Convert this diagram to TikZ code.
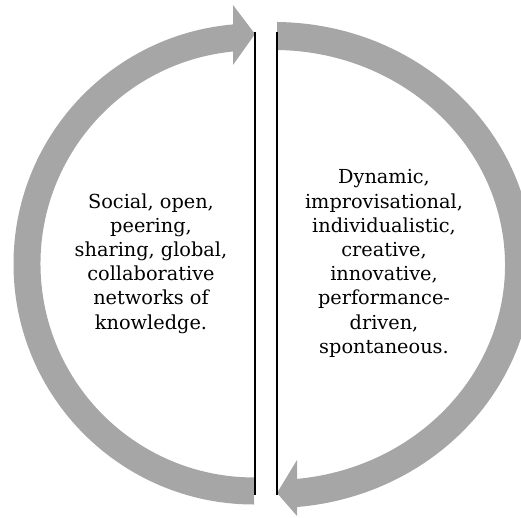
\documentclass[tikz,border=0pt]{standalone}
\usepackage{fontspec}
\setmainfont{DejaVu Serif}
\usetikzlibrary{positioning}
\definecolor{cyGray}{RGB}{166,166,166}
\tikzset{
    band/.style={fill=cyGray, draw=none},
    divider/.style={draw=black, line width=1.7pt},
    blurb/.style={font=\fontsize{19.3}{24.2}\selectfont, align=center, inner sep=0pt}
}

\begin{document}
\begin{tikzpicture}[x=1pt, y=1pt]
  \useasboundingbox (0,0) rectangle (521,517);
  \clip (0,0) rectangle (521,517);

  % Left arc, bottom up to the top arrowhead
  \fill[band] (254,12.5) arc[start angle=270, end angle=95, radius=240.5]
    -- (233,512) -- (255,483) -- (233,452)
    -- (233,465.5) arc[start angle=95.64, end angle=270, radius=213.5] -- cycle;

  % Right arc, top down to the bottom arrowhead
  \fill[band] (277,495) arc[start angle=89.34, end angle=-84.9, x radius=259, y radius=243]
    -- (297,1) -- (277,24) -- (297,57)
    -- (297,38.1) arc[start angle=-84.29, end angle=89.26, x radius=231, y radius=215] -- cycle;

  % Divider lines
  \coordinate (lTop) at (255,485);
  \coordinate (lBot) at (255,22);
  \coordinate (rTop) at (277,485);
  \coordinate (rBot) at (277,22);
  \draw[divider] (lTop) -- (lBot);
  \draw[divider] (rTop) -- (rBot);

  % Texts
  \node[blurb] (social) at (151,253.5) {Social, open,\\ peering,\\ sharing, global,\\ collaborative\\ networks of\\ knowledge.};
  \node[blurb] (dynamic) at (384,253.5) {Dynamic,\\ improvisational,\\ individualistic,\\ creative,\\ innovative,\\ performance-\\ driven,\\ spontaneous.};
\end{tikzpicture}
\end{document}
